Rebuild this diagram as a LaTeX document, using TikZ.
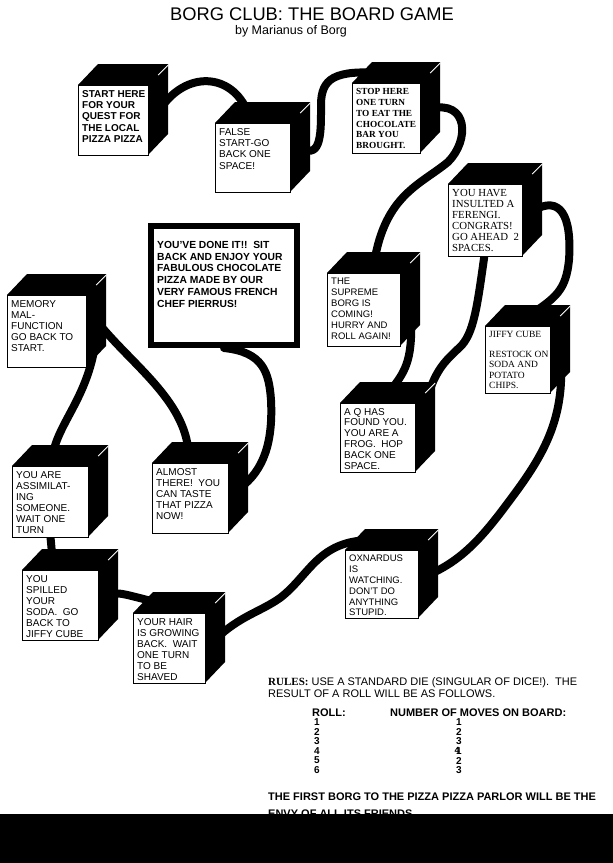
\documentclass[tikz,border=0pt]{standalone}
\usepackage{fontspec}
\setmainfont{Liberation Sans}
\newfontfamily\serifbox{Liberation Serif}
\usetikzlibrary{calc}
\pgfdeclarelayer{bg}
\pgfsetlayers{bg,main}
\tikzset{
  conn/.style={line width=8pt, line cap=round, line join=round, black},
  face/.style={draw=black, line width=1.2pt, fill=white, anchor=north west, inner sep=0pt},
  btxt/.style={anchor=north west, align=left, inner sep=0pt, font=\fontsize{10}{11.4}\selectfont\bfseries},
  stxt/.style={anchor=north west, align=left, inner sep=0pt, font=\serifbox\fontsize{10}{11.2}\selectfont\bfseries},
  rtxt/.style={anchor=west, inner sep=0pt, font=\fontsize{11}{10.5}\selectfont},
  dig/.style={inner sep=0pt, font=\fontsize{10}{10}\selectfont\bfseries},
}
\newcommand\mycube[7]{%
  \fill[black] (#2,#3) -- ++(20,-21) -- ++(#4,0) -- ++(0,#5) -- ++(-20,21) -- ++(0,-#5) -- cycle;
  \node[face, minimum width=#4pt, minimum height=#5pt] (#1) at (#2,#3) {};
  \draw[white, line width=0.8pt] ($(#1.north east)+(19,-20)$) -- ($(#1.north east)+(9,-10)$);
  \coordinate (#1-side) at ($(#1.east)+(10,-10)$);
  \coordinate (#1-top) at ($(#1.north)+(10,-10)$);
  \node[#6] (#1t) at ($(#1.north west)+(4,5)$) {#7};
}
\begin{document}
\begin{tikzpicture}[x=1pt,y=-1pt]
\useasboundingbox (0,0) rectangle (613,863);

% title
\node (title) at (312,14) {\fontsize{18.3}{18}\selectfont BORG CLUB: THE BOARD GAME};
\node (author) at (291,31) {\fontsize{12.5}{12}\selectfont by Marianus of Borg};

% final square
\node[draw=black, line width=6pt, fill=white, anchor=north west, inner sep=0pt, minimum width=146pt, minimum height=119pt] (sq) at (148,223) {};
\node[btxt, font=\fontsize{10.3}{11.8}\selectfont\bfseries] (sqt) at (157,241) {YOU'VE DONE IT!!\ \ SIT\\BACK AND ENJOY YOUR\\FABULOUS CHOCOLATE\\PIZZA MADE BY OUR\\VERY FAMOUS FRENCH\\CHEF PIERRUS!};

\mycube{c1}{78}{85}{70}{70}{btxt}{START HERE\\FOR YOUR\\QUEST FOR\\THE LOCAL\\PIZZA PIZZA}
\mycube{c2}{215}{123}{75}{69}{btxt, font=\fontsize{10}{11.4}\selectfont}{FALSE\\START-GO\\BACK ONE\\SPACE!}
\mycube{c3}{352}{83}{68}{70}{stxt, font=\serifbox\fontsize{9.3}{10.9}\selectfont\bfseries}{STOP HERE\\ONE TURN\\TO EAT THE\\CHOCOLATE\\BAR YOU\\BROUGHT.}
\mycube{c4}{448}{184}{74}{72}{stxt, font=\serifbox\fontsize{10.8}{11}\selectfont}{YOU HAVE\\INSULTED A\\FERENGI.\\CONGRATS!\\GO AHEAD\ \ 2\\SPACES.}
\mycube{c5}{327}{273}{73}{73}{btxt, font=\fontsize{9.5}{11}\selectfont}{THE\\SUPREME\\BORG IS\\COMING!\\HURRY AND\\ROLL AGAIN!}
\mycube{c6}{7}{295}{79}{72}{btxt, font=\fontsize{10}{11}\selectfont}{MEMORY\\MAL-\\FUNCTION\\GO BACK TO\\START.}
\mycube{c7}{485}{326}{65}{67}{stxt, font=\serifbox\fontsize{9.5}{10.6}\selectfont}{JIFFY CUBE\\[9pt]RESTOCK ON\\SODA AND\\POTATO\\CHIPS.}
\mycube{c8}{340}{403}{75}{69}{btxt, font=\fontsize{10}{10.8}\selectfont}{A Q HAS\\FOUND YOU.\\YOU ARE A\\FROG.\ \ HOP\\BACK ONE\\SPACE.}
\mycube{c9}{12}{466}{76}{71}{btxt, font=\fontsize{10}{11}\selectfont}{YOU ARE\\ASSIMILAT-\\ING\\SOMEONE.\\WAIT ONE\\TURN}
\mycube{c10}{152}{463}{76}{70}{btxt, font=\fontsize{10}{11}\selectfont}{ALMOST\\THERE!\ \ YOU\\CAN TASTE\\THAT PIZZA\\NOW!}
\mycube{c11}{22}{570}{76}{70}{btxt, font=\fontsize{10}{11}\selectfont}{YOU\\SPILLED\\YOUR\\SODA.\ \ GO\\BACK TO\\JIFFY CUBE}
\mycube{c12}{133}{613}{72}{70}{btxt, font=\fontsize{10}{11}\selectfont}{YOUR HAIR\\IS GROWING\\BACK.\ \ WAIT\\ONE TURN\\TO BE\\SHAVED}
\mycube{c13}{345}{550}{73}{68}{btxt, font=\fontsize{9.5}{10.8}\selectfont}{OXNARDUS\\IS\\WATCHING.\\DON'T DO\\ANYTHING\\STUPID.}

\begin{pgfonlayer}{bg}
\fill[white] (0,0) rectangle (613,863);
\draw[conn] (c1-side) .. controls (185,70) and (232,72) .. ($(c2-top)+(-15,0)$);
\draw[conn] (c2-side) .. controls (322,160) and (321,130) .. (321,105) .. controls (321,78) and (335,70) .. ($(c3-top)+(-15,0)$);
\draw[conn] (c3-side) .. controls (468,100) and (470,140) .. (448,162) .. controls (420,185) and (385,195) .. (c5-top);
\draw[conn] (c4-side) .. controls (560,195) and (572,215) .. (569,260) .. controls (566,290) and (556,298) .. (c7-top);
\draw[conn] ($(c5-side)+(0,20)$) .. controls (412,360) and (406,372) .. (c8-top);
\draw[conn] ($(c8-side)+(-5,0)$) .. controls (430,370) and (445,362) .. (462,345) .. controls (475,330) and (478,300) .. ($(c4.south)+(0,-10)$);
\draw[conn] ($(c7-side)+(0,20)$) .. controls (562,425) and (540,460) .. (510,500) .. controls (482,538) and (462,560) .. (c13-side);
\draw[conn] ($(c13-top)+(-20,0)$) .. controls (318,540) and (310,575) .. (280,598) .. controls (260,612) and (240,616) .. (c12-side);
\draw[conn] ($(c12-top)+(-20,0)$) .. controls (130,596) and (115,590) .. (c11-side);
\draw[conn] ($(c11-top)+(-18,0)$) -- (c9.south);
\draw[conn] ($(c9-top)+(-8,0)$) .. controls (58,420) and (95,392) .. (c6-side);
\draw[conn] (c6-side) .. controls (132,365) and (185,400) .. ($(c10-top)+(-12,0)$);
\draw[conn] (c10-side) .. controls (265,470) and (273,440) .. (271,400) .. controls (269,372) and (263,352) .. (sq.south);
\end{pgfonlayer}

% rules
\node[rtxt] (r1) at (268,683) {{\serifbox\bfseries RULES:}\ USE A STANDARD DIE (SINGULAR OF DICE!).\ \ THE};
\node[rtxt] (r2) at (268,694) {RESULT OF A ROLL WILL BE AS FOLLOWS.};
\node[rtxt, font=\fontsize{11}{11}\selectfont\bfseries] (rollh) at (312,713) {ROLL:};
\node[rtxt, font=\fontsize{11}{11}\selectfont\bfseries] (moveh) at (390,713) {NUMBER OF MOVES ON BOARD:};
\foreach \r/\m [count=\i] in {1/1,2/2,3/3,4/{\rlap{\raisebox{1.5pt}{\kern-1.5pt\fontsize{9}{9}\selectfont 4}}1},5/2,6/3} {
  \node[dig] (roll\i) at (317,712.5+9.6*\i) {\r};
  \node[dig] (move\i) at (459,712.5+9.6*\i) {\m};
}
\node[rtxt, font=\fontsize{11}{11}\selectfont\bfseries] (f1) at (268,797) {THE FIRST BORG TO THE PIZZA PIZZA PARLOR WILL BE THE};
\node[rtxt, font=\fontsize{11}{11}\selectfont\bfseries] (f2) at (268,813.5) {ENVY OF ALL ITS FRIENDS.};
\fill[black] (0,814) rectangle (613,863);
\end{tikzpicture}
\end{document}
